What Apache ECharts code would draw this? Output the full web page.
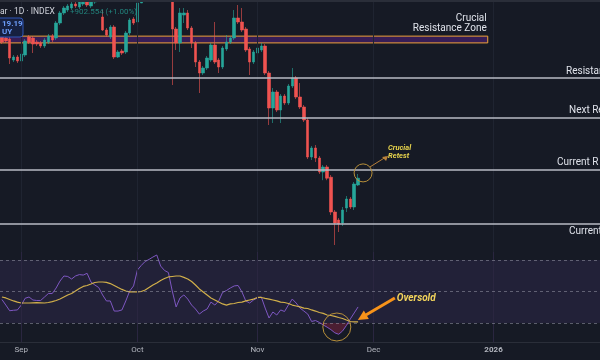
<!DOCTYPE html>
<html><head><meta charset="utf-8">
<script src="https://cdn.jsdelivr.net/npm/echarts@6/dist/echarts.min.js"></script>
<style>html,body{margin:0;padding:0;background:#161a25;}#c{width:600px;height:360px;}</style>
</head><body><div id="c"></div>
<script>
// ---- categories: daily dates (crypto, 7 days a week) ----
const startDay = Date.UTC(2025, 7, 27);
const dayCount = 155;
const categories = [];
for (let i = 0; i < dayCount; i++) categories.push(new Date(startDay + i * 86400000).toISOString().slice(0, 10));
const monthNames = ['Jan','Feb','Mar','Apr','May','Jun','Jul','Aug','Sep','Oct','Nov','Dec'];

// ---- daily OHLC ----
const opens = [112920,112610,112455,109200,109665,109045,109975,112765,112610,111990,111835,111370,111990,112920,112610,114935,116485,116950,117260,117880,117415,117880,118190,117570,
118190,118800,115865,113850,112765,114315,109665,110595,110440,113385,115555,115090,118035,120600,122300,122400,123500,124700,121400,123300,
121700,114005,111835,116175,116485,114160,111835,108890,107185,107960,109200,111525,109200,108115,110905,111990,112610,115710,115090,114005,110905,108890,110285,110750,111370,
107185,101760,104240,101450,103620,102535,105170,106410,103465,101915,99900,94165,95560,94010,91840,92615,91035,85640,84400,83935,86260,87655,86415,89825];
const closes = [111990,112145,109510,109665,109045,110130,112145,111990,111680,111680,111370,112300,112920,112300,114935,116485,117260,117570,117880,117570,118190,118345,117725,118190,
118800,118650,113850,113075,114315,109665,110440,110285,113385,115400,114935,118035,120600,122300,122400,123500,124700,121400,123300,121700,
114005,111835,116485,116485,114160,111835,108890,107185,107960,109510,111525,108890,108115,111060,111990,112610,115710,115090,113850,110750,108890,110440,111060,111370,107185,
101760,104240,101450,103620,102535,105170,106410,103465,101915,99900,94165,95560,94010,91840,92615,90880,85640,83935,83780,85950,87655,86415,89980,90880];
const lows = [111680,111835,108580,108890,108735,107960,109665,111680,110285,111370,111060,111060,111680,111990,112300,114625,116175,116640,116950,117260,117105,117570,117415,117260,
117900,118300,113695,112765,112455,109355,109510,109975,110130,113075,114625,114780,118400,119300,121600,122100,123100,120600,121100,119700,
105325,110750,110440,114935,113850,111060,108115,104085,106875,107650,108890,108580,107185,107805,110595,111680,112300,114780,113540,110440,106875,108580,109975,110440,106875,
99125,99435,101140,99435,102225,102225,104860,103155,101605,99590,93855,93700,93390,91530,90570,90570,85175,80525,82540,83470,85640,86105,85950,89670];
const highs = [113385,113230,112765,109975,109975,110440,112455,113075,112920,112300,112145,112610,113230,113230,115245,116795,117570,117880,118190,118190,118810,118655,118500,118500,
119300,119500,116950,114160,114625,114625,110750,110905,113695,115710,115865,118810,121000,123000,122900,125700,126200,125100,124100,123700,
122400,114315,117260,117260,116950,114470,112145,109200,108270,109820,111835,115090,109510,111370,113075,112920,116950,117725,117260,114315,111215,110750,111370,111835,111680,
107495,104860,104550,103930,103930,105480,107960,106720,105635,102225,100210,95870,96025,94320,92925,92925,91375,85950,84710,86415,88120,87965,90290,91530];

const rsi = [44.9,41.4,37.8,38.1,38.3,41.4,45.7,46.5,44.6,44.3,44.3,46.5,48.7,48.7,52.2,56.6,59.8,59.5,57.9,59.8,60.7,60.4,61.5,56.0,
54.1,52.5,47.8,44.0,44.0,37.6,37.6,38.3,44.0,50.3,53.5,63.6,66.5,69.0,70.3,71.8,73.1,66.1,63.3,62.0,
50.3,40.2,45.9,47.8,45.2,41.4,38.9,35.7,37.6,38.9,43.3,41.4,44.0,49.4,50.6,52.2,53.5,53.8,49.7,44.0,42.7,44.6,45.9,46.5,39.5,
33.2,37.0,35.1,38.3,37.3,41.4,45.2,42.7,39.5,37.6,35.7,31.0,31.6,30.4,28.8,27.4,25.8,23.8,22.9,25.0,28.5,32.6,36.4,40.2];
const rsiMA = [46.5,45.9,44.9,44.0,43.3,42.7,42.7,42.7,42.8,42.9,42.8,42.7,43.0,43.6,44.3,45.2,46.5,47.8,48.7,50.3,51.9,53.2,53.8,54.7,
55.7,56.0,56.0,55.8,55.0,53.8,52.5,51.3,50.3,49.7,49.7,49.7,50.0,50.9,52.5,54.1,55.4,57.0,58.2,59.2,
59.5,59.8,59.8,58.9,57.9,56.3,54.1,51.6,49.7,47.8,45.9,44.6,43.3,42.1,41.4,42.1,42.4,43.0,43.3,44.0,44.6,45.2,46.2,46.2,45.6,
45.2,44.6,44.0,43.3,43.0,42.4,41.4,40.8,40.2,39.5,39.2,38.3,37.6,36.7,36.1,35.1,34.8,34.2,33.5,32.9,31.9,31.0,30.7,30.7];
const rsiLevels = [70, 50, 30];

// ---- drawn levels ----
const zoneTop = 112900, zoneBottom = 111850, zoneEndDay = '2025-12-31';
const levelPrices = [106400, 100200, 92150, 83800];
const levelTexts = ['Resistan', 'Next Re', 'Current R', 'Current'];

const up = '#26a69a', down = '#ef5350';
const ohlc = opens.map((o, i) => [o, closes[i], lows[i], highs[i]]);
const bodies = opens.map((o, i) => [o, closes[i], Math.min(o, closes[i]), Math.max(o, closes[i])]);
const monthStarts = categories.filter(d => d.slice(8) === '01');

const chart = echarts.init(document.getElementById('c'), null, {renderer: 'canvas'});
const option = {
  animation: false,
  backgroundColor: '#161a25',
  grid: [
    {left: 0, right: 0, top: 0, height: 252},
    {left: 0, right: 0, top: 252, height: 90}
  ],
  xAxis: [
    {type: 'category', gridIndex: 0, data: categories, boundaryGap: true, show: false},
    {type: 'category', gridIndex: 1, data: categories, boundaryGap: true,
      axisLine: {show: true, lineStyle: {color: '#2a2e39'}}, axisTick: {show: false},
      splitLine: {show: false},
      axisLabel: {show: true, color: '#b2b5be', fontSize: 8, fontFamily: 'Roboto', margin: 4,
        hideOverlap: false,
        interval: (idx, val) => val.slice(8) === '01',
        formatter: (val) => { const p = val.split('-'); return p[1] === '01' ? '{y|' + p[0] + '}' : monthNames[+p[1] - 1]; },
        rich: {y: {fontWeight: 'bold', fontSize: 8, color: '#b2b5be', fontFamily: 'Roboto'}}}},
    {type: 'value', gridIndex: 0, min: 0, max: dayCount, show: false}
  ],
  yAxis: [
    {type: 'value', gridIndex: 0, min: 79440, max: 118500, show: false, splitLine: {show: false}},
    {type: 'value', gridIndex: 1, min: 18, max: 75, show: false, splitLine: {show: false}}
  ],
  series: [
    {type: 'line', xAxisIndex: 0, yAxisIndex: 0, data: [], silent: true, z: 1,
      markLine: {silent: true, symbol: 'none', label: {show: false},
        lineStyle: {color: '#1f2431', width: 1, type: 'solid'},
        data: monthStarts.map(d => ({xAxis: d}))}},
    {type: 'line', xAxisIndex: 1, yAxisIndex: 1, data: [], silent: true, z: 1,
      markLine: {silent: true, symbol: 'none', label: {show: false},
        lineStyle: {color: '#2a2640', width: 1, type: 'solid'},
        data: monthStarts.map(d => ({xAxis: d}))}},
    {name: 'wicks', type: 'candlestick', xAxisIndex: 0, yAxisIndex: 0, data: ohlc, barWidth: 1, z: 2,
      itemStyle: {color: 'rgba(38,166,154,0.6)', color0: 'rgba(239,83,80,0.6)',
        borderColor: 'rgba(38,166,154,0.6)', borderColor0: 'rgba(239,83,80,0.6)', borderWidth: 1}},
    {name: 'bodies', type: 'candlestick', xAxisIndex: 0, yAxisIndex: 0, data: bodies, barWidth: 3, z: 3,
      itemStyle: {color: up, color0: down, borderColor: up, borderColor0: down, borderWidth: 0.6}},
    {name: 'levels', type: 'line', xAxisIndex: 2, yAxisIndex: 0, data: [], silent: true, z: 5,
      markLine: {silent: true, symbol: 'none', label: {show: false},
        lineStyle: {color: '#b8bbc4', width: 1.5, type: 'solid'},
        data: levelPrices.map(p => ({yAxis: p}))},
      markArea: {silent: true,
        itemStyle: {color: 'rgba(115,35,175,0.36)', borderColor: '#f0a23a', borderWidth: 1},
        data: [[{xAxis: 0, yAxis: zoneTop}, {xAxis: categories.indexOf(zoneEndDay), yAxis: zoneBottom}]]}},
    {name: 'RSI', type: 'line', xAxisIndex: 1, yAxisIndex: 1, data: rsi, showSymbol: false, z: 4,
      lineStyle: {color: '#7e57c2', width: 1}, itemStyle: {color: '#7e57c2'},
      markArea: {silent: true, itemStyle: {color: 'rgba(126,87,194,0.12)'},
        data: [[{yAxis: 70}, {yAxis: 30}]]},
      markLine: {silent: true, symbol: 'none', label: {show: false},
        lineStyle: {color: 'rgba(150,152,165,0.55)', width: 1, type: [3, 3]},
        data: rsiLevels.map(v => ({yAxis: v}))}},
    {name: 'RSI MA', type: 'line', xAxisIndex: 1, yAxisIndex: 1, data: rsiMA, showSymbol: false, z: 4,
      lineStyle: {color: '#d2b04a', width: 1.2}, itemStyle: {color: '#d2b04a'}},
    {name: 'os base', type: 'line', xAxisIndex: 1, yAxisIndex: 1, stack: 'os', showSymbol: false, z: 3,
      data: rsi.map(v => Math.min(v, 30)), lineStyle: {opacity: 0}},
    {name: 'os fill', type: 'line', xAxisIndex: 1, yAxisIndex: 1, stack: 'os', showSymbol: false, z: 3,
      data: rsi.map(v => 30 - Math.min(v, 30)), lineStyle: {opacity: 0},
      areaStyle: {color: 'rgba(190,40,80,0.45)'}}
  ]
};
chart.setOption(option);

// ---- annotations anchored to the data coordinates ----
const P = (xi, yi, pt) => chart.convertToPixel({xAxisIndex: xi, yAxisIndex: yi}, pt);
const zoneEndPx = P(2, 0, [categories.indexOf(zoneEndDay), zoneTop]);
const levelPx = levelPrices.map(p => P(2, 0, [0, p])[1]);
const levelTextX = [566, 569, 557, 569];
const levelTextDy = [-7, -8, -8, 8];
const retest = P(0, 0, ['2025-11-27', 91700]);
const oversold = P(1, 1, ['2025-11-21', 27.5]);
const lblFont = '10px Roboto';
const g = [
  {type: 'rect', shape: {x: 0, y: 0, width: 600, height: 2}, style: {fill: '#2a2e39'}, silent: true, z: 10},
  {type: 'text', style: {text: 'ar · 1D · INDEX', x: 0, y: 12, font: '8.5px Roboto', fill: '#d1d4dc', verticalAlign: 'middle'}, z: 10},
  {type: 'text', style: {text: '+902.554 (+1.00%)', x: 70, y: 12, font: '8px Roboto', fill: 'rgba(38,166,154,0.75)', verticalAlign: 'middle'}, z: 10},
  {type: 'rect', shape: {x: -6, y: 18, width: 29, height: 19, r: 3}, style: {fill: '#162040', stroke: '#2f56b8', lineWidth: 1}, z: 10},
  {type: 'text', style: {text: '19.19', x: 2, y: 24, font: 'bold 8px Roboto', fill: '#6c9cf8', verticalAlign: 'middle'}, z: 11},
  {type: 'text', style: {text: 'UY', x: 2, y: 32, font: 'bold 8px Roboto', fill: '#6c9cf8', verticalAlign: 'middle'}, z: 11},
  {type: 'text', style: {text: 'Crucial', x: zoneEndPx[0] - 1, y: zoneEndPx[1] - 18, font: lblFont, fill: '#e0e3eb', align: 'right', verticalAlign: 'middle'}, z: 10},
  {type: 'text', style: {text: 'Resistance Zone', x: zoneEndPx[0] - 1, y: zoneEndPx[1] - 8, font: lblFont, fill: '#e0e3eb', align: 'right', verticalAlign: 'middle'}, z: 10}
];
levelTexts.forEach((t, i) => g.push({type: 'text', style: {text: t, x: levelTextX[i], y: levelPx[i] + levelTextDy[i], font: lblFont, fill: '#e0e3eb', verticalAlign: 'middle'}, z: 10}));
// crucial retest
const rc = [retest[0] + 5, retest[1]];
g.push({type: 'circle', shape: {cx: rc[0], cy: rc[1], r: 9}, style: {fill: 'none', stroke: '#b8903a', lineWidth: 1}, z: 10});
g.push({type: 'line', shape: {x1: rc[0] + 7, y1: rc[1] - 6, x2: rc[0] + 23, y2: rc[1] - 16}, style: {stroke: '#b8803a', lineWidth: 1}, z: 10});
g.push({type: 'polygon', shape: {points: [[rc[0] + 25, rc[1] - 17], [rc[0] + 19, rc[1] - 16], [rc[0] + 23, rc[1] - 12]]}, style: {fill: '#b8803a'}, z: 10});
g.push({type: 'text', style: {text: 'Crucial', x: rc[0] + 25, y: rc[1] - 25, font: 'italic bold 7.5px Roboto', fill: '#e8d44d', verticalAlign: 'middle'}, z: 10});
g.push({type: 'text', style: {text: 'Retest', x: rc[0] + 25, y: rc[1] - 17, font: 'italic bold 7.5px Roboto', fill: '#e8d44d', verticalAlign: 'middle'}, z: 10});
// oversold
const oc = [oversold[0] + 2, oversold[1]];
g.push({type: 'circle', shape: {cx: oc[0], cy: oc[1], r: 14}, style: {fill: 'none', stroke: '#b8903a', lineWidth: 1}, z: 10});
const tip = [oc[0] + 21, oc[1] - 7];
const tail = [oc[0] + 58, oc[1] - 29];
g.push({type: 'line', shape: {x1: tail[0], y1: tail[1], x2: tip[0] + 8, y2: tip[1] - 5}, style: {stroke: '#f7931a', lineWidth: 3}, z: 10});
g.push({type: 'polygon', shape: {points: [[tip[0], tip[1]], [tip[0] + 6, tip[1] - 9.5], [tip[0] + 11, tip[1] - 1]]}, style: {fill: '#f7931a'}, z: 10});
g.push({type: 'text', style: {text: 'Oversold', x: tail[0] + 2, y: tail[1], font: 'italic bold 10px Roboto', fill: '#f2d45c', verticalAlign: 'middle'}, z: 10});
chart.setOption({graphic: g.map(e => Object.assign({silent: true}, e))});
</script>
</body></html>
